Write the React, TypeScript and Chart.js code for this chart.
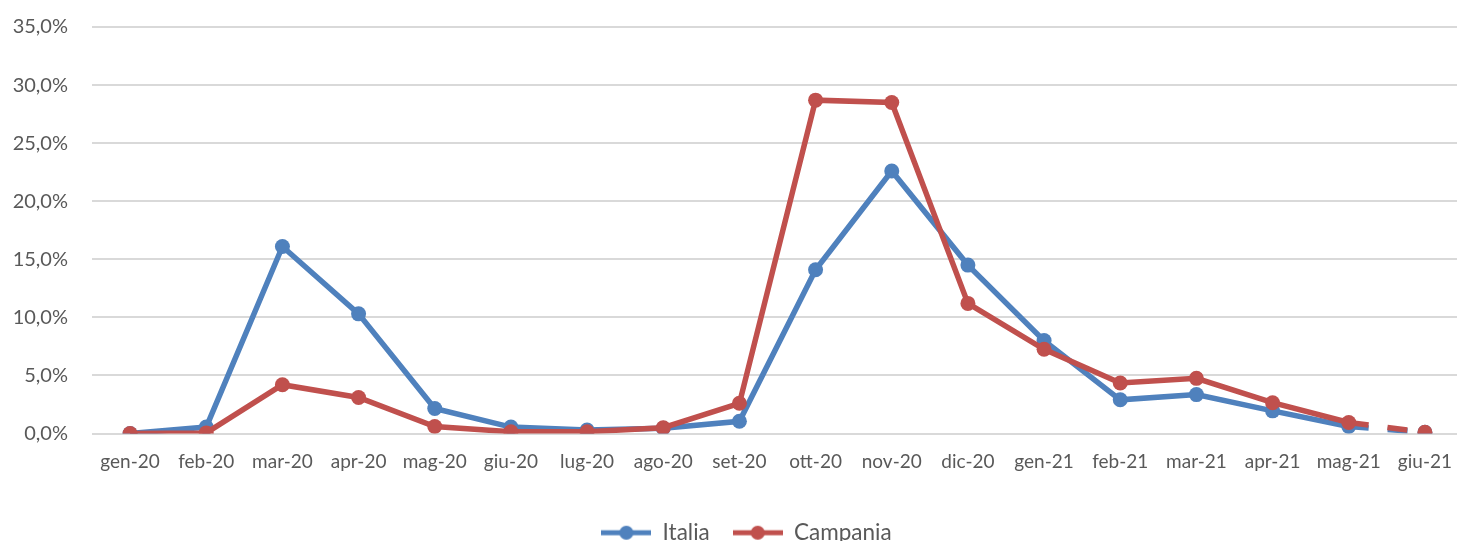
import React, { useEffect, useRef } from "react";
import { Chart, registerables } from "chart.js";

Chart.register(...registerables);

const categories = ["gen-20","feb-20","mar-20","apr-20","mag-20","giu-20","lug-20","ago-20","set-20","ott-20","nov-20","dic-20","gen-21","feb-21","mar-21","apr-21","mag-21","giu-21"];
const italia = [0.0, 0.55, 16.1, 10.3, 2.15, 0.55, 0.3, 0.45, 1.05, 14.1, 22.6, 14.5, 8.0, 2.9, 3.35, 1.95, 0.6, 0.1];
const campania = [0.0, 0.05, 4.2, 3.1, 0.6, 0.15, 0.15, 0.5, 2.6, 28.7, 28.5, 11.2, 7.25, 4.35, 4.75, 2.65, 0.95, 0.1];
const yTicks = [0, 5, 10, 15, 20, 25, 30, 35];

const BLUE = "#4F81BD";
const RED = "#C0504D";
const FONT = "Lato, 'Open Sans', sans-serif";

function legendIcon(color: string) {
  const c = document.createElement("canvas");
  c.width = 50;
  c.height = 16;
  const ctx = c.getContext("2d")!;
  ctx.strokeStyle = color;
  ctx.lineWidth = 5;
  ctx.beginPath();
  ctx.moveTo(0, 8);
  ctx.lineTo(50, 8);
  ctx.stroke();
  ctx.fillStyle = color;
  ctx.beginPath();
  ctx.arc(25, 8, 7, 0, Math.PI * 2);
  ctx.fill();
  return c;
}

const legendShift = {
  id: "legendShift",
  afterLayout(chart: any) {
    if (chart.legend) chart.legend.left += 30;
  },
};

export default function App() {
  const ref = useRef<HTMLCanvasElement>(null);
  useEffect(() => {
    const icons = [legendIcon(BLUE), legendIcon(RED)];
    const dashLast = (ctx: any) => (ctx.p1DataIndex === categories.length - 1 ? [20, 19] : undefined);
    const chart = new Chart(ref.current!, {
      type: "line",
      data: {
        labels: categories,
        datasets: [
          {
            label: "Italia",
            data: italia,
            borderColor: BLUE,
            backgroundColor: BLUE,
            borderWidth: 5.5,
            pointRadius: 7.5,
            pointHoverRadius: 7.5,
            pointBorderWidth: 0,
            segment: { borderDash: dashLast },
            order: 1,
          },
          {
            label: "Campania",
            data: campania,
            borderColor: RED,
            backgroundColor: RED,
            borderWidth: 5.5,
            pointRadius: 7.5,
            pointHoverRadius: 7.5,
            pointBorderWidth: 0,
            segment: { borderDash: dashLast },
            order: 0,
          },
        ],
      },
      plugins: [legendShift],
      options: {
        responsive: false,
        animation: false,
        layout: { autoPadding: false, padding: { left: 0, right: 0, top: 27, bottom: -13 } },
        plugins: {
          tooltip: { enabled: false },
          legend: {
            position: "bottom",
            labels: {
              usePointStyle: true,
              pointStyleWidth: 50,
              color: "#595959",
              font: { family: FONT, size: 22.5 },
              padding: 23,
              generateLabels: (chart: any) =>
                chart.data.datasets.map((ds: any, i: number) => ({
                  text: ds.label,
                  fillStyle: ds.borderColor,
                  strokeStyle: ds.borderColor,
                  pointStyle: icons[i],
                  datasetIndex: i,
                  hidden: false,
                  lineWidth: 0,
                  fontColor: "#595959",
                })),
            },
          },
        },
        scales: {
          x: {
            offset: true,
            grid: { display: false },
            border: { display: false },
            afterFit: (axis: any) => {
              axis.height = 65;
              axis.paddingLeft = 0;
              axis.paddingRight = 0;
            },
            ticks: { color: "#595959", font: { family: FONT, size: 19 }, padding: 9, maxRotation: 0, autoSkip: false },
          },
          y: {
            min: 0,
            max: 35,
            afterBuildTicks: (axis: any) => {
              axis.ticks = yTicks.map((v) => ({ value: v }));
            },
            afterFit: (axis: any) => {
              axis.width = 92;
              axis.paddingTop = 0;
              axis.paddingBottom = 0;
            },
            grid: { color: "#D9D9D9", lineWidth: 2, drawTicks: false },
            border: { display: false },
            ticks: {
              color: "#595959",
              font: { family: FONT, size: 20 },
              padding: 24,
              callback: (v: any) => Number(v).toFixed(1).replace(".", ",") + "%",
            },
          },
        },
      },
    });
    return () => chart.destroy();
  }, []);
  return (
    <div style={{ width: 1457, height: 541, overflow: "hidden" }}>
      <style>{"html,body{margin:0;padding:0;overflow:hidden;}"}</style>
      <canvas ref={ref} width={1463} height={541} style={{ display: "block" }} />
    </div>
  );
}
